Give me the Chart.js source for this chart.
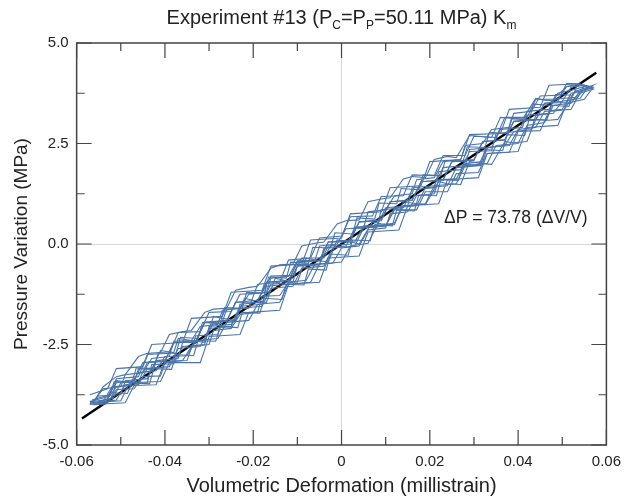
<!DOCTYPE html>
<html>
<head>
<meta charset="utf-8">
<script src="https://cdn.jsdelivr.net/npm/chart.js@4"></script>
<style>
  html, body { margin: 0; padding: 0; background: #fff; }
  #wrap { width: 629px; height: 496px; }
</style>
</head>
<body>
<div id="wrap"><canvas id="kmChart"></canvas></div>
<script>
// volumetric deformation (millistrain) / pressure variation (MPa), one loop per pair
const loop1Strain = [-0.057, -0.054, -0.052, -0.048, -0.046, -0.042, -0.040, -0.035, -0.033, -0.028, -0.026, -0.021, -0.019, -0.014, -0.012, -0.007, -0.005, 0.000, 0.002, 0.006, 0.008, 0.012, 0.014, 0.019, 0.021, 0.026, 0.028, 0.033, 0.035, 0.040, 0.042, 0.046, 0.048, 0.052, 0.054, 0.057,
  0.055, 0.052, 0.050, 0.046, 0.044, 0.039, 0.037, 0.032, 0.030, 0.025, 0.023, 0.018, 0.016, 0.011, 0.009, 0.004, 0.002, -0.003, -0.005, -0.010, -0.012, -0.017, -0.019, -0.024, -0.026, -0.031, -0.033, -0.038, -0.040, -0.045, -0.047, -0.051, -0.053, -0.057];
const loop1Pressure = [-3.95, -3.92, -3.55, -3.52, -3.20, -3.15, -2.80, -2.78, -2.40, -2.35, -1.95, -1.90, -1.50, -1.45, -1.00, -0.95, -0.50, -0.45, -0.05, 0.02, 0.45, 0.52, 0.95, 1.00, 1.45, 1.50, 1.95, 2.00, 2.45, 2.50, 2.95, 3.02, 3.45, 3.50, 3.80, 3.88,
  3.95, 3.90, 3.55, 3.50, 3.10, 3.05, 2.60, 2.55, 2.10, 2.05, 1.60, 1.55, 1.10, 1.05, 0.60, 0.55, 0.10, 0.05, -0.40, -0.45, -0.90, -0.95, -1.40, -1.45, -1.90, -1.95, -2.40, -2.45, -2.90, -2.95, -3.40, -3.45, -3.80, -3.92];

const loop2Strain = [-0.056, -0.053, -0.051, -0.047, -0.045, -0.041, -0.040, -0.036, -0.034, -0.030, -0.029, -0.025, -0.023, -0.019, -0.018, -0.014, -0.012, -0.008, -0.006, -0.002, 0.000, 0.004, 0.006, 0.010, 0.011, 0.015, 0.017, 0.021, 0.022, 0.026, 0.028, 0.032, 0.033, 0.037, 0.039, 0.043, 0.044, 0.048, 0.050, 0.053, 0.055, 0.056,
  0.054, 0.051, 0.049, 0.045, 0.043, 0.039, 0.038, 0.034, 0.032, 0.028, 0.027, 0.023, 0.021, 0.017, 0.016, 0.012, 0.010, 0.006, 0.005, 0.001, -0.001, -0.005, -0.006, -0.010, -0.012, -0.016, -0.017, -0.021, -0.023, -0.027, -0.028, -0.032, -0.034, -0.038, -0.039, -0.043, -0.045, -0.049, -0.050, -0.054, -0.056];
const loop2Pressure = [-3.98, -3.95, -3.62, -3.60, -3.30, -3.28, -2.95, -2.90, -2.55, -2.50, -2.15, -2.10, -1.75, -1.70, -1.30, -1.28, -0.95, -0.90, -0.50, -0.48, -0.10, -0.05, 0.35, 0.40, 0.75, 0.80, 1.20, 1.25, 1.60, 1.62, 2.00, 2.05, 2.40, 2.45, 2.80, 2.85, 3.20, 3.25, 3.55, 3.60, 3.85, 3.90,
  3.98, 3.92, 3.70, 3.68, 3.30, 3.25, 2.90, 2.85, 2.50, 2.45, 2.10, 2.05, 1.65, 1.60, 1.25, 1.20, 0.85, 0.80, 0.40, 0.38, 0.00, -0.05, -0.40, -0.42, -0.80, -0.85, -1.20, -1.25, -1.60, -1.65, -2.00, -2.05, -2.40, -2.42, -2.80, -2.85, -3.20, -3.25, -3.55, -3.60, -3.90];

const loop3Strain = [-0.055, -0.051, -0.049, -0.044, -0.043, -0.038, -0.036, -0.031, -0.030, -0.025, -0.023, -0.018, -0.017, -0.012, -0.010, -0.005, -0.004, 0.001, 0.003, 0.008, 0.009, 0.014, 0.016, 0.021, 0.022, 0.027, 0.029, 0.034, 0.035, 0.040, 0.042, 0.047, 0.048, 0.053, 0.055,
  0.053, 0.049, 0.047, 0.042, 0.041, 0.036, 0.034, 0.029, 0.028, 0.023, 0.021, 0.016, 0.015, 0.010, 0.008, 0.003, 0.002, -0.003, -0.005, -0.010, -0.011, -0.016, -0.018, -0.023, -0.024, -0.029, -0.031, -0.036, -0.037, -0.042, -0.044, -0.049, -0.050, -0.055, -0.057];
const loop3Pressure = [-3.95, -3.88, -3.50, -3.45, -3.00, -2.98, -2.55, -2.50, -2.05, -2.00, -1.55, -1.50, -1.05, -1.00, -0.55, -0.52, -0.10, -0.05, 0.40, 0.42, 0.85, 0.90, 1.35, 1.40, 1.80, 1.85, 2.30, 2.32, 2.75, 2.80, 3.20, 3.25, 3.60, 3.65, 3.92,
  3.85, 3.75, 3.35, 3.30, 2.90, 2.85, 2.40, 2.35, 1.95, 1.90, 1.45, 1.40, 0.95, 0.90, 0.45, 0.42, 0.00, -0.05, -0.50, -0.52, -0.95, -1.00, -1.45, -1.50, -1.90, -1.95, -2.40, -2.45, -2.85, -2.90, -3.35, -3.40, -3.75, -3.78, -3.98];

const loop4Strain = [-0.057, -0.052, -0.050, -0.046, -0.044, -0.040, -0.038, -0.033, -0.031, -0.026, -0.024, -0.019, -0.017, -0.012, -0.010, -0.005, -0.003, 0.002, 0.004, 0.009, 0.011, 0.016, 0.018, 0.023, 0.025, 0.030, 0.032, 0.037, 0.039, 0.044, 0.046, 0.051, 0.053, 0.057,
  0.055, 0.052, 0.050, 0.046, 0.044, 0.040, 0.038, 0.033, 0.031, 0.026, 0.024, 0.019, 0.017, 0.012, 0.010, 0.005, 0.003, -0.002, -0.004, -0.009, -0.011, -0.016, -0.018, -0.023, -0.025, -0.030, -0.032, -0.037, -0.039, -0.044, -0.046, -0.051, -0.053, -0.057];
const loop4Pressure = [-3.98, -3.90, -3.45, -3.42, -2.95, -2.92, -2.45, -2.45, -1.95, -1.92, -1.45, -1.45, -0.95, -0.92, -0.45, -0.42, 0.05, 0.08, 0.55, 0.58, 1.05, 1.08, 1.55, 1.58, 2.05, 2.08, 2.55, 2.58, 3.05, 3.08, 3.50, 3.52, 3.80, 3.95,
  3.82, 3.75, 3.35, 3.30, 2.90, 2.85, 2.45, 2.40, 1.95, 1.90, 1.45, 1.40, 0.95, 0.90, 0.45, 0.40, -0.05, -0.10, -0.55, -0.60, -1.05, -1.10, -1.55, -1.60, -2.05, -2.10, -2.55, -2.60, -3.05, -3.10, -3.50, -3.55, -3.85, -4.00];

const loop5Strain = [-0.056, -0.050, -0.048, -0.041, -0.039, -0.032, -0.030, -0.023, -0.021, -0.014, -0.012, -0.005, -0.003, 0.004, 0.006, 0.013, 0.015, 0.022, 0.024, 0.031, 0.033, 0.040, 0.042, 0.049, 0.051, 0.055, 0.057,
  0.053, 0.047, 0.045, 0.038, 0.036, 0.029, 0.027, 0.020, 0.018, 0.011, 0.009, 0.002, 0.000, -0.007, -0.009, -0.016, -0.018, -0.025, -0.027, -0.034, -0.036, -0.043, -0.045, -0.051, -0.053, -0.057];
const loop5Pressure = [-3.95, -3.90, -3.45, -3.42, -2.95, -2.95, -2.30, -2.25, -1.70, -1.65, -1.00, -0.95, -0.35, -0.30, 0.30, 0.35, 0.95, 1.00, 1.60, 1.65, 2.25, 2.30, 2.90, 2.95, 3.50, 3.60, 3.90,
  3.98, 3.95, 3.40, 3.35, 2.75, 2.72, 2.10, 2.05, 1.45, 1.40, 0.80, 0.75, 0.15, 0.10, -0.50, -0.55, -1.15, -1.20, -1.80, -1.85, -2.45, -2.50, -3.05, -3.10, -3.60, -3.75];

const loop6Strain = [-0.057, -0.053, -0.051, -0.046, -0.044, -0.039, -0.037, -0.032, -0.030, -0.025, -0.023, -0.018, -0.016, -0.011, -0.009, -0.004, -0.002, 0.003, 0.005, 0.010, 0.012, 0.017, 0.019, 0.024, 0.026, 0.031, 0.033, 0.038, 0.040, 0.045, 0.047, 0.052, 0.054, 0.057,
  0.055, 0.051, 0.049, 0.044, 0.042, 0.037, 0.035, 0.030, 0.028, 0.023, 0.021, 0.016, 0.014, 0.009, 0.007, 0.002, 0.000, -0.005, -0.007, -0.012, -0.014, -0.019, -0.021, -0.026, -0.028, -0.033, -0.035, -0.040, -0.042, -0.047, -0.049, -0.054, -0.056];
const loop6Pressure = [-3.92, -3.88, -3.35, -3.30, -2.75, -2.72, -2.20, -2.18, -1.70, -1.68, -1.25, -1.22, -0.80, -0.78, -0.35, -0.35, 0.05, 0.05, 0.45, 0.45, 0.85, 0.85, 1.30, 1.30, 1.75, 1.78, 2.25, 2.28, 2.80, 2.82, 3.30, 3.35, 3.75, 3.85,
  3.95, 3.92, 3.60, 3.60, 3.15, 3.15, 2.65, 2.68, 2.20, 2.20, 1.70, 1.72, 1.20, 1.18, 0.70, 0.68, 0.20, 0.15, -0.35, -0.40, -0.95, -1.00, -1.60, -1.62, -2.25, -2.28, -2.90, -2.92, -3.50, -3.52, -3.95, -3.98, -4.00];

const loop7Strain = [-0.055, -0.052, -0.051, -0.047, -0.046, -0.043, -0.041, -0.038, -0.037, -0.034, -0.031, -0.029, -0.027, -0.024, -0.022, -0.020, -0.017, -0.015, -0.013, -0.010, -0.008, -0.006, -0.003, -0.001, 0.002, 0.004, 0.007, 0.009, 0.012, 0.014, 0.017, 0.019, 0.022, 0.024, 0.027, 0.029, 0.032, 0.034, 0.037, 0.039, 0.042, 0.044, 0.047, 0.049, 0.052, 0.054, 0.056,
  0.054, 0.051, 0.049, 0.046, 0.044, 0.041, 0.039, 0.036, 0.034, 0.031, 0.029, 0.026, 0.024, 0.021, 0.019, 0.016, 0.014, 0.011, 0.009, 0.006, 0.004, 0.001, -0.001, -0.004, -0.006, -0.009, -0.011, -0.014, -0.016, -0.019, -0.021, -0.024, -0.026, -0.029, -0.031, -0.034, -0.036, -0.039, -0.041, -0.044, -0.046, -0.049, -0.051, -0.054, -0.056];
const loop7Pressure = [-3.90, -3.85, -3.40, -3.45, -3.10, -3.12, -2.65, -2.70, -2.35, -2.40, -2.45, -1.80, -1.85, -1.90, -1.35, -1.40, -1.45, -0.85, -0.90, -0.95, -0.35, -0.40, -0.45, 0.10, 0.05, 0.00, 0.55, 0.50, 0.48, 1.05, 1.00, 0.98, 1.55, 1.50, 1.48, 2.05, 2.00, 1.98, 2.55, 2.52, 2.55, 3.10, 3.08, 3.10, 3.60, 3.62, 3.92,
  3.98, 4.00, 3.55, 3.58, 3.62, 3.10, 3.12, 3.15, 2.65, 2.68, 2.70, 2.15, 2.18, 2.10, 1.65, 1.68, 1.62, 1.15, 1.12, 1.05, 0.60, 0.58, 0.50, 0.05, 0.02, -0.05, -0.50, -0.52, -0.60, -1.05, -1.08, -1.15, -1.60, -1.62, -1.70, -2.15, -2.18, -2.25, -2.70, -2.72, -2.80, -3.25, -3.30, -3.55, -3.90];

const loop8Strain = [-0.0565, -0.0535, -0.0525, -0.0485, -0.0475, -0.0435, -0.0425, -0.0385, -0.0375, -0.0335, -0.0325, -0.0285, -0.0275, -0.0235, -0.0225, -0.0185, -0.0175, -0.0135, -0.0125, -0.0085, -0.0075, -0.0035, -0.0025, 0.0015, 0.0025, 0.0065, 0.0075, 0.0115, 0.0125, 0.0165, 0.0175, 0.0215, 0.0225, 0.0265, 0.0275, 0.0315, 0.0325, 0.0365, 0.0375, 0.0415, 0.0425, 0.0465, 0.0475, 0.0515, 0.0525, 0.0565,
  0.0535, 0.0525, 0.0485, 0.0475, 0.0435, 0.0425, 0.0385, 0.0375, 0.0335, 0.0325, 0.0285, 0.0275, 0.0235, 0.0225, 0.0185, 0.0175, 0.0135, 0.0125, 0.0085, 0.0075, 0.0035, 0.0025, -0.0015, -0.0025, -0.0065, -0.0075, -0.0115, -0.0125, -0.0165, -0.0175, -0.0215, -0.0225, -0.0265, -0.0275, -0.0315, -0.0325, -0.0365, -0.0375, -0.0415, -0.0425, -0.0465, -0.0475, -0.0515, -0.0525, -0.0565];
const loop8Pressure = [-4.00, -3.98, -3.70, -3.72, -3.45, -3.48, -3.10, -3.12, -2.75, -2.78, -2.40, -2.42, -2.05, -2.08, -1.70, -1.72, -1.35, -1.38, -1.00, -1.02, -0.62, -0.65, -0.25, -0.28, 0.10, 0.08, 0.48, 0.45, 0.85, 0.82, 1.22, 1.20, 1.60, 1.58, 1.98, 1.95, 2.35, 2.32, 2.72, 2.70, 3.10, 3.08, 3.45, 3.42, 3.75, 3.88,
  3.98, 3.70, 3.72, 3.45, 3.48, 3.10, 3.12, 2.75, 2.78, 2.40, 2.42, 2.05, 2.08, 1.70, 1.72, 1.35, 1.38, 1.00, 1.02, 0.62, 0.65, 0.25, 0.28, -0.10, -0.08, -0.48, -0.45, -0.85, -0.82, -1.22, -1.20, -1.60, -1.58, -1.98, -1.95, -2.35, -2.32, -2.72, -2.70, -3.10, -3.08, -3.45, -3.42, -3.75, -3.88];

// linear fit dP = 73.78 (dV/V)
const fitStrain = [-0.0588, 0.0577];
const fitPressure = [-4.34, 4.26];

const xMajorTicks = [-0.06, -0.04, -0.02, 0, 0.02, 0.04, 0.06];
const xMinorTicks = [-0.05, -0.03, -0.01, 0.01, 0.03, 0.05];
const yMajorTicks = [-5.0, -2.5, 0.0, 2.5, 5.0];
const yMinorTicks = [-3.75, -1.25, 1.25, 3.75];

const FONT = 'Arial, "Liberation Sans", sans-serif';
const loopColor = '#4a74aa';

function pairUp(xs, ys) {
  return xs.map((x, i) => ({ x: x, y: ys[i] }));
}

const loops = [
  [loop1Strain, loop1Pressure],
  [loop2Strain, loop2Pressure],
  [loop3Strain, loop3Pressure],
  [loop4Strain, loop4Pressure],
  [loop5Strain, loop5Pressure],
  [loop6Strain, loop6Pressure],
  [loop7Strain, loop7Pressure],
  [loop8Strain, loop8Pressure],
];

const datasets = loops.map(([xs, ys], i) => ({
  label: 'loop ' + (i + 1),
  data: pairUp(xs, ys),
  showLine: true,
  borderColor: loopColor,
  borderWidth: 1.1,
  pointRadius: 0,
  tension: 0,
}));
datasets.push({
  label: 'fit',
  data: pairUp(fitStrain, fitPressure),
  showLine: true,
  borderColor: '#000',
  borderWidth: 2.5,
  pointRadius: 0,
});

// frame, inward ticks, titles (with subscripts) and fit annotation
const decorations = {
  id: 'decorations',
  afterDraw(chart) {
    const { ctx, chartArea: a, scales: { x, y } } = chart;
    ctx.save();
    ctx.strokeStyle = '#444';
    ctx.lineWidth = 1.5;
    ctx.strokeRect(a.left, a.top, a.right - a.left, a.bottom - a.top);

    ctx.lineWidth = 1.2;
    ctx.beginPath();
    const xt = (v, len) => {
      const px = x.getPixelForValue(v);
      ctx.moveTo(px, a.bottom); ctx.lineTo(px, a.bottom - len);
      ctx.moveTo(px, a.top); ctx.lineTo(px, a.top + len);
    };
    const yt = (v, len) => {
      const py = y.getPixelForValue(v);
      ctx.moveTo(a.left, py); ctx.lineTo(a.left + len, py);
      ctx.moveTo(a.right, py); ctx.lineTo(a.right - len, py);
    };
    xMajorTicks.forEach(v => xt(v, 15));
    xMinorTicks.forEach(v => xt(v, 8));
    yMajorTicks.forEach(v => yt(v, 15));
    yMinorTicks.forEach(v => yt(v, 8));
    ctx.stroke();

    ctx.fillStyle = '#222';
    ctx.textBaseline = 'alphabetic';
    const parts = [
      ['Experiment #13 (P', 20, 0], ['C', 12, 5], ['=P', 20, 0], ['P', 12, 5],
      ['=50.11 MPa) K', 20, 0], ['m', 12, 5],
    ];
    let total = 0;
    parts.forEach(([t, s]) => { ctx.font = s + 'px ' + FONT; total += ctx.measureText(t).width; });
    let cx = (a.left + a.right) / 2 - total / 2;
    const base = 24;
    parts.forEach(([t, s, dy]) => {
      ctx.font = s + 'px ' + FONT;
      ctx.fillText(t, cx, base + dy);
      cx += ctx.measureText(t).width;
    });

    ctx.font = '20px ' + FONT;
    ctx.textAlign = 'center';
    ctx.textBaseline = 'middle';
    ctx.fillText('Volumetric Deformation (millistrain)', (a.left + a.right) / 2, 486);

    ctx.font = '17.5px ' + FONT;
    ctx.textAlign = 'left';
    ctx.fillText('\u0394P = 73.78 (\u0394V/V)', x.getPixelForValue(0.0232), y.getPixelForValue(0.64));
    ctx.restore();
  }
};

new Chart(document.getElementById('kmChart'), {
  type: 'scatter',
  data: { datasets: datasets },
  options: {
    responsive: true,
    maintainAspectRatio: false,
    animation: false,
    layout: { padding: { top: 43, right: 20, left: 10, bottom: 17 } },
    plugins: {
      legend: { display: false },
      tooltip: { enabled: false },
    },
    scales: {
      x: {
        type: 'linear',
        min: -0.06,
        max: 0.06,
        afterBuildTicks: s => { s.ticks = xMajorTicks.map(v => ({ value: v })); },
        ticks: {
          color: '#222',
          font: { family: FONT, size: 15 },
          padding: 8,
          maxRotation: 0,
          callback: v => (Math.abs(v) < 1e-9 ? '0' : v.toFixed(2)),
        },
        grid: {
          drawTicks: false,
          color: c => (c.tick && Math.abs(c.tick.value) < 1e-9 ? '#d8d8d8' : 'transparent'),
        },
        border: { display: false },
      },
      y: {
        type: 'linear',
        min: -5,
        max: 5,
        afterBuildTicks: s => { s.ticks = yMajorTicks.map(v => ({ value: v })); },
        ticks: {
          color: '#222',
          font: { family: FONT, size: 15 },
          padding: 8,
          callback: v => v.toFixed(1),
        },
        grid: {
          drawTicks: false,
          color: c => (c.tick && Math.abs(c.tick.value) < 1e-9 ? '#d8d8d8' : 'transparent'),
        },
        border: { display: false },
        title: {
          display: true,
          text: 'Pressure Variation (MPa)',
          color: '#222',
          font: { family: FONT, size: 19 },
          padding: { top: 0, bottom: 2 },
        },
      },
    },
  },
  plugins: [decorations],
});
</script>
</body>
</html>
